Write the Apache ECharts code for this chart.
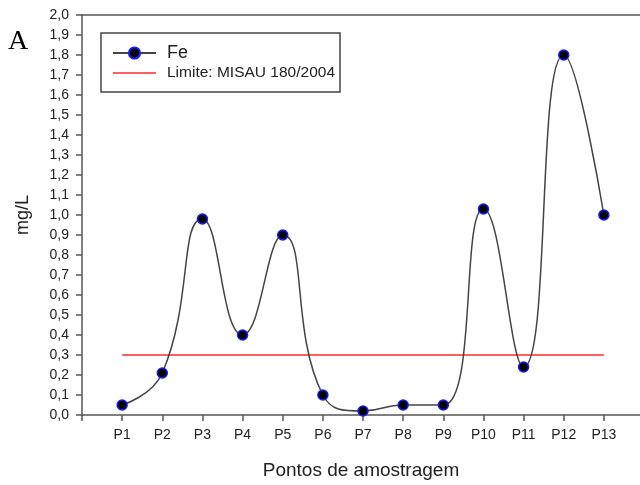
<!DOCTYPE html>
<html>
<head>
<meta charset="utf-8">
<script src="https://cdn.jsdelivr.net/npm/echarts@6/dist/echarts.min.js"></script>
<style>
  html, body { margin: 0; padding: 0; background: #fff; }
  #chart { width: 640px; height: 485px; }
</style>
</head>
<body>
<div id="chart"></div>
<script>
// dados
var pontos = ['P1', 'P2', 'P3', 'P4', 'P5', 'P6', 'P7', 'P8', 'P9', 'P10', 'P11', 'P12', 'P13'];
var fe = [0.05, 0.21, 0.98, 0.40, 0.90, 0.10, 0.02, 0.05, 0.05, 1.03, 0.24, 1.80, 1.00];
var limite = 0.3;

var chart = echarts.init(document.getElementById('chart'));

var feData = fe.map(function (v, i) { return [i + 1, v]; });
var limiteData = [[1, limite], [pontos.length, limite]];

var fonte = 'Liberation Sans, Arial, sans-serif';
var corEixo = '#555';

var option = {
    animation: false,
    grid: { left: 82, right: 0, top: 15, bottom: 69 },
    graphic: [{
        type: 'text', left: 8, top: 28,
        style: { text: 'A', font: '28px "Liberation Serif", "Times New Roman", serif', fill: '#000' }
    }],
    legend: {
        orient: 'vertical',
        left: 101, top: 33,
        padding: [11, 5, 11, 11],
        itemGap: 3,
        itemWidth: 43, itemHeight: 14,
        borderColor: '#444', borderWidth: 1.5,
        textStyle: { fontFamily: fonte, color: '#222', padding: [0, 0, 0, 6] },
        data: [
            { name: 'Fe', textStyle: { fontSize: 18 } },
            { name: 'Limite: MISAU 180/2004', icon: 'path://M0,0H43V1.5H0Z', textStyle: { fontSize: 15.5 } }
        ]
    },
    xAxis: [{
        type: 'value', min: 0, max: 13.9, interval: 1,
        name: 'Pontos de amostragem', nameLocation: 'middle', nameGap: 46,
        nameTextStyle: { fontFamily: fonte, fontSize: 19, color: '#222' },
        axisLine: { lineStyle: { color: corEixo, width: 1.5 } },
        axisTick: { length: 6, lineStyle: { color: corEixo, width: 1.5 } },
        axisLabel: {
            fontFamily: fonte, fontSize: 14, color: '#222', margin: 13,
            showMaxLabel: false,
            formatter: function (v) { return (v >= 1 && v <= pontos.length) ? pontos[v - 1] : ''; }
        },
        splitLine: { show: false }
    }, {
        // linha superior do quadro
        type: 'value', position: 'top', min: 0, max: 13.9,
        axisLine: { show: true, lineStyle: { color: corEixo, width: 1.5 } },
        axisTick: { show: false }, axisLabel: { show: false }, splitLine: { show: false }
    }],
    yAxis: {
        type: 'value', min: 0, max: 2, interval: 0.1,
        name: 'mg/L', nameLocation: 'middle', nameGap: 50,
        nameTextStyle: { fontFamily: fonte, fontSize: 18, color: '#222' },
        axisLine: { show: true, lineStyle: { color: corEixo, width: 1.5 } },
        axisTick: { show: true, length: 6, lineStyle: { color: corEixo, width: 1.5 } },
        axisLabel: {
            fontFamily: fonte, fontSize: 14, color: '#222', margin: 13,
            formatter: function (v) { return v.toFixed(1).replace('.', ','); }
        },
        splitLine: { show: false }
    },
    series: [
        {
            name: 'Fe', type: 'line', data: feData,
            smooth: 0.5,
            symbol: 'circle', symbolSize: 10,
            lineStyle: { color: '#444', width: 1.5 },
            itemStyle: { color: '#000', borderColor: '#1a1aff', borderWidth: 1.5 },
            z: 3
        },
        {
            name: 'Limite: MISAU 180/2004', type: 'line', data: limiteData,
            symbol: 'none',
            lineStyle: { color: '#ff2a2a', width: 1.5 },
            itemStyle: { color: '#ff2a2a' },
            z: 2
        }
    ]
};

chart.setOption(option);
</script>
</body>
</html>
